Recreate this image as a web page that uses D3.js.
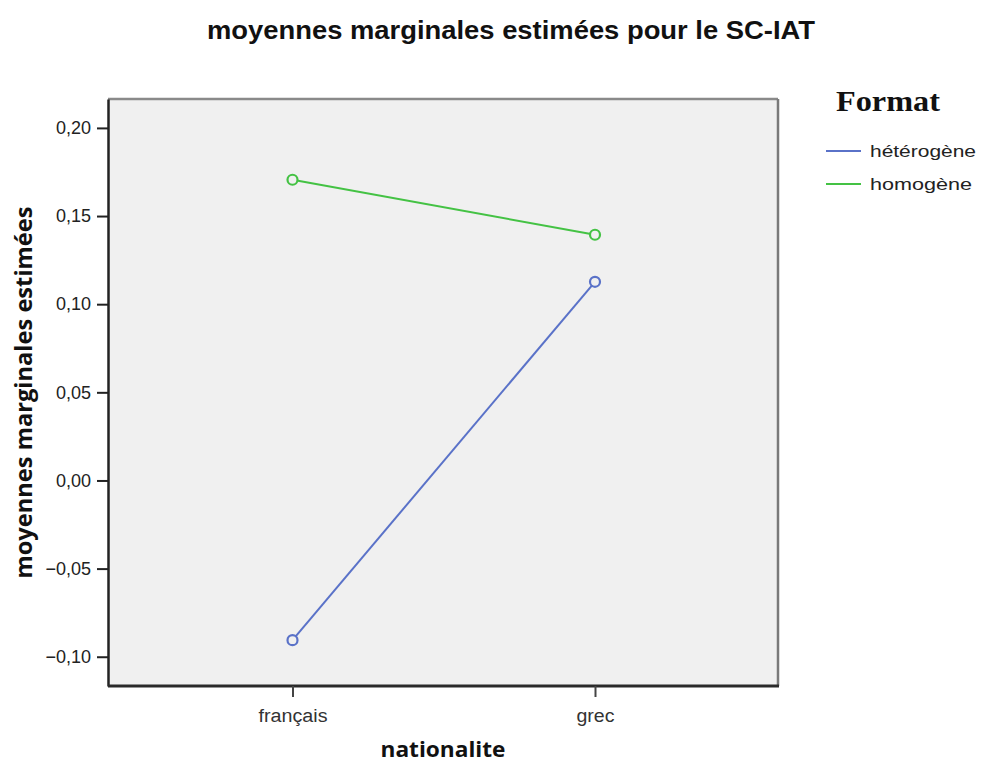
<!DOCTYPE html>
<html>
<head>
<meta charset="utf-8">
<script src="https://cdn.jsdelivr.net/npm/d3@7"></script>
<style>
  body { margin: 0; background: #fff; }
</style>
</head>
<body>
<div id="chart"></div>
<script>
const width = 982;
const height = 765;

const margin = { top: 99, right: 204, bottom: 79, left: 108 };

// data
const nationalites = ["français", "grec"];
const formats = ["hétérogène", "homogène"];
const heterogene = [-0.0906, 0.1127];
const homogene = [0.1706, 0.1394];
const yTicks = [-0.10, -0.05, 0.00, 0.05, 0.10, 0.15, 0.20];
const couleurs = ["#5a72c8", "#44c244"];
const series = [heterogene, homogene];

const svg = d3.select("#chart")
    .append("svg")
    .attr("width", width)
    .attr("height", height)
    .style("font-family", "'Liberation Sans', Arial, sans-serif");

const x = d3.scalePoint()
    .domain(nationalites)
    .range([292.5, 595]);

const y = d3.scaleLinear()
    .domain([-0.1166, 0.2164])
    .range([height - margin.bottom, margin.top]);

const x0 = margin.left, x1 = width - margin.right;
const y0 = margin.top, y1 = height - margin.bottom;

// plot frame
svg.append("rect")
    .attr("x", x0)
    .attr("y", y0)
    .attr("width", x1 - x0)
    .attr("height", y1 - y0)
    .attr("fill", "#f0f0f0");

const frame = svg.append("g");
frame.append("line").attr("x1", x0).attr("x2", x1).attr("y1", y0).attr("y2", y0)
    .attr("stroke", "#8a8a8a").attr("stroke-width", 2.5);
frame.append("line").attr("x1", x1).attr("x2", x1).attr("y1", y0).attr("y2", y1)
    .attr("stroke", "#7a7a7a").attr("stroke-width", 2.5);

// y axis
const fmt = d => d3.format(".2f")(d).replace(".", ",");
const yAxis = svg.append("g")
    .attr("transform", `translate(${x0},0)`)
    .call(d3.axisLeft(y).tickValues(yTicks).tickFormat(fmt).tickSize(11).tickSizeOuter(0).tickPadding(6));
yAxis.select(".domain").attr("stroke", "#222").attr("stroke-width", 2.5);
yAxis.selectAll(".tick line").attr("stroke", "#222").attr("stroke-width", 2);
yAxis.selectAll(".tick text")
    .attr("fill", "#222")
    .style("font-size", "18px")
    .style("font-family", "'Liberation Sans', Arial, sans-serif");

// x axis
const xAxis = svg.append("g")
    .attr("transform", `translate(0,${y1})`)
    .call(d3.axisBottom(x).tickSize(11).tickSizeOuter(0).tickPadding(12));
xAxis.select(".domain")
    .attr("d", `M${x0},0H${x1 + 1}`)
    .attr("stroke", "#2a2a2a").attr("stroke-width", 3);
xAxis.selectAll(".tick line").attr("stroke", "#444").attr("stroke-width", 2);
xAxis.selectAll(".tick text")
    .attr("fill", "#333")
    .style("font-size", "18px")
    .style("font-family", "'Liberation Sans', Arial, sans-serif")
    .attr("textLength", d => d === "français" ? 69 : 38)
    .attr("lengthAdjust", "spacingAndGlyphs");

// lines + markers
const line = d3.line()
    .x((d, i) => x(nationalites[i]))
    .y(d => y(d));

series.forEach((s, k) => {
    svg.append("path")
        .datum(s)
        .attr("d", line)
        .attr("fill", "none")
        .attr("stroke", couleurs[k])
        .attr("stroke-width", 2);
    svg.append("g")
        .selectAll("circle")
        .data(s)
        .join("circle")
            .attr("cx", (d, i) => x(nationalites[i]))
            .attr("cy", d => y(d))
            .attr("r", 5)
            .attr("fill", "#f0f0f0")
            .attr("stroke", couleurs[k])
            .attr("stroke-width", 2.2);
});

// title
svg.append("text")
    .attr("x", 511)
    .attr("y", 39)
    .attr("text-anchor", "middle")
    .style("font-size", "25px")
    .style("font-weight", "bold")
    .attr("fill", "#111")
    .attr("textLength", 608)
    .attr("lengthAdjust", "spacingAndGlyphs")
    .text("moyennes marginales estimées pour le SC-IAT");

// axis titles
svg.append("text")
    .attr("transform", `translate(32,${(y0 + y1) / 2}) rotate(-90)`)
    .attr("text-anchor", "middle")
    .style("font-family", "'Open Sans', sans-serif")
    .style("font-size", "23px")
    .style("font-weight", "bold")
    .attr("fill", "#111")
    .attr("textLength", 372)
    .attr("lengthAdjust", "spacingAndGlyphs")
    .text("moyennes marginales estimées");

svg.append("text")
    .attr("x", 443)
    .attr("y", 757)
    .attr("text-anchor", "middle")
    .style("font-family", "'Open Sans', sans-serif")
    .style("font-size", "22px")
    .style("font-weight", "bold")
    .attr("fill", "#111")
    .attr("textLength", 125)
    .attr("lengthAdjust", "spacingAndGlyphs")
    .text("nationalite");

// legend
const legend = svg.append("g").attr("class", "legend");
legend.append("text")
    .attr("x", 836)
    .attr("y", 111)
    .style("font-family", "'Liberation Serif', 'Times New Roman', serif")
    .style("font-size", "30px")
    .style("font-weight", "bold")
    .attr("fill", "#111")
    .attr("textLength", 104)
    .attr("lengthAdjust", "spacingAndGlyphs")
    .text("Format");

formats.forEach((f, k) => {
    const ly = 151 + k * 33;
    legend.append("line")
        .attr("x1", 826).attr("x2", 861)
        .attr("y1", ly).attr("y2", ly)
        .attr("stroke", couleurs[k])
        .attr("stroke-width", 2);
    legend.append("text")
        .attr("x", 870)
        .attr("y", ly + 6)
        .style("font-size", "17px")
        .attr("fill", "#222")
        .attr("textLength", k === 0 ? 106 : 102)
        .attr("lengthAdjust", "spacingAndGlyphs")
        .text(f);
});
</script>
</body>
</html>
